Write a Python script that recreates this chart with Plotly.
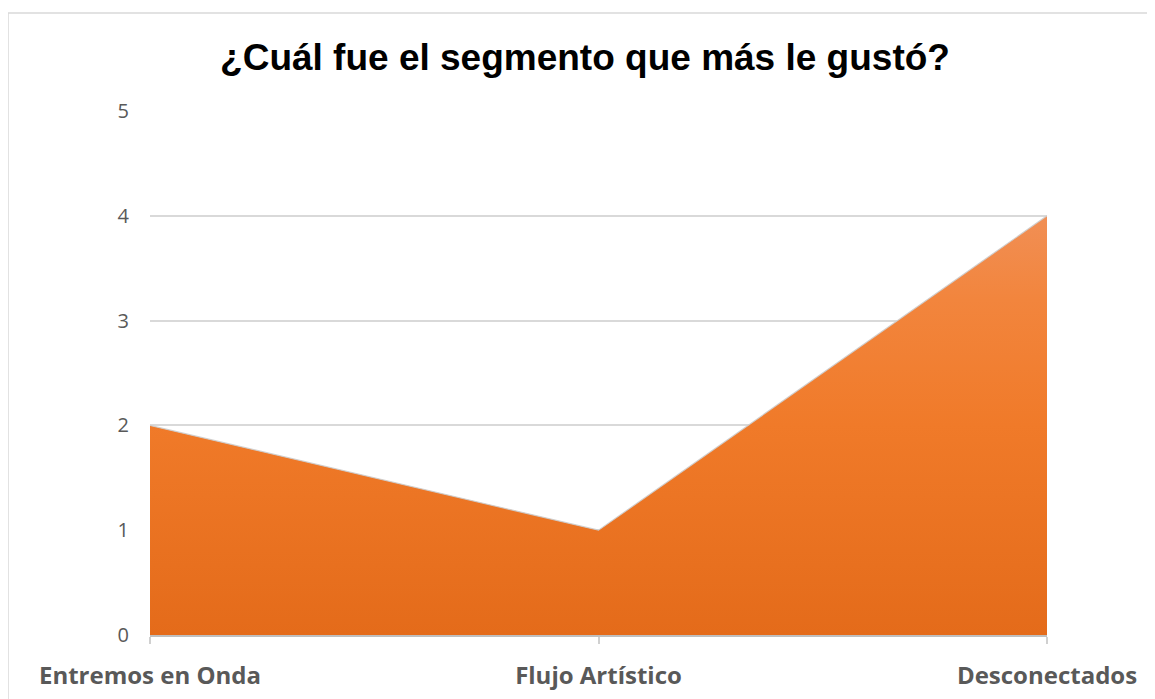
import plotly.graph_objects as go

categories = ["Entremos en Onda", "Flujo Artístico", "Desconectados"]
values = [2, 1, 4]
y_ticks = [0, 1, 2, 3, 4, 5]
title_text = "¿Cuál fue el segmento que más le gustó?"

OFF = 8  # page body margin
W, H = 1155, 699
ml, mr, mt, mb = 150 - OFF, 108 + OFF, 111 - OFF, 64 + OFF
pw, ph = W - ml - mr, H - mt - mb

def px_x(p):
    return (p - OFF - ml) / pw

def px_y(p):
    return (H - mb - (p - OFF)) / ph

fig = go.Figure()
fig.add_trace(go.Scatter(
    x=categories, y=values, mode="lines", fill="tozeroy",
    line=dict(color="rgba(205,205,205,0.9)", width=1.2),
    fillgradient=dict(type="vertical",
                      colorscale=[[0, "#E46B1A"], [0.5, "#F07A29"],
                                  [0.8, "#F2853D"], [1, "#F18F55"]]),
    hoverinfo="x+y", showlegend=False,
))

fig.update_layout(
    width=W, height=H,
    margin=dict(l=ml, r=mr, t=mt, b=mb),
    paper_bgcolor="white", plot_bgcolor="white",
    title=dict(text="<b>" + title_text + "</b>", x=px_x(585), xref="paper",
               xanchor="center", y=1 - (57 - OFF) / H, yanchor="middle",
               font=dict(family="Liberation Sans, Arial", size=37, color="black")),
    xaxis=dict(type="category", range=[0, 2], showgrid=False,
               showline=True, linecolor="#BFBFBF", linewidth=2,
               ticks="outside", ticklen=7, tickcolor="#D0D0D0", tickwidth=1.5,
               ticklabelstandoff=11,
               tickfont=dict(family="Open Sans, Liberation Sans", size=24, color="#595959",
                             weight="bold"),
               fixedrange=True),
    yaxis=dict(range=[0, 5], tickvals=y_ticks, showgrid=True, gridcolor="#D9D9D9",
               gridwidth=1.5, zeroline=False, showline=False,
               ticklabelstandoff=20,
               tickfont=dict(family="Open Sans, Liberation Sans", size=20, color="#595959"),
               fixedrange=True),
    shapes=[dict(type="rect", xref="paper", yref="paper",
                 x0=px_x(8), x1=px_x(1170), y0=px_y(712), y1=px_y(13),
                 line=dict(color="#D9D9D9", width=1.5), fillcolor="rgba(0,0,0,0)",
                 layer="below")],
)

fig.write_html("out.html")
